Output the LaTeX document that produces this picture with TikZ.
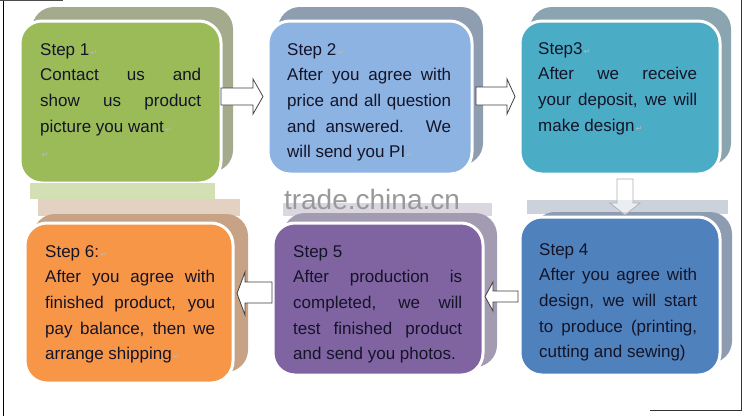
\documentclass[tikz,border=0pt]{standalone}
\usepackage{fontspec}
\setmainfont{Liberation Sans}
\newfontfamily\symfont{DejaVu Sans}
\definecolor{cgreen}{HTML}{9BBB59}
\definecolor{sgreen}{HTML}{A3AB8C}
\definecolor{cblue}{HTML}{8DB3E2}
\definecolor{sblue}{HTML}{8F9DB0}
\definecolor{cteal}{HTML}{4BACC6}
\definecolor{steal}{HTML}{8BA5B0}
\definecolor{cdblue}{HTML}{4F81BD}
\definecolor{sdblue}{HTML}{8D9CB1}
\definecolor{cpurple}{HTML}{8064A2}
\definecolor{spurple}{HTML}{A29BB2}
\definecolor{corange}{HTML}{F79646}
\definecolor{sorange}{HTML}{C8A285}
\definecolor{txt}{HTML}{141428}
\newcommand{\retmk}{{\symfont\color{gray!55}\fontsize{8}{8}\selectfont\,↵}}
\newcommand{\jline}[1]{\makebox[\linewidth][s]{#1}\par}
\newcommand{\nline}[1]{\mbox{#1}\par}
\tikzset{
  front/.style={draw=white, line width=3pt, rounded corners=22pt},
  shadowbox/.style={rounded corners=22pt},
  stepbox/.style={anchor=base west, inner sep=0pt, text=txt,
    font=\fontsize{17}{25.7}\selectfont},
  blockarrow/.style={draw=black!75, fill=white, line width=0.8pt, line join=miter},
}
\begin{document}
\begin{tikzpicture}[x=1pt, y=-1pt]
\useasboundingbox (0,0) rectangle (744,416);
\fill[white] (0,0) rectangle (744,416);
% page edges
\draw[black, line width=0.8pt] (3,0) -- (3,416);
\draw[black!80, line width=0.8pt] (741,0) -- (741,410) -- (650,410);
\draw[black!70, line width=0.8pt] (0,0.5) -- (63,0.5);

% ---- top row ----
\fill[sgreen, shadowbox] (32,7) rectangle (233,172);
\filldraw[fill=cgreen, front] (20,21) rectangle (221,183);
\fill[sblue, shadowbox] (278,7) rectangle (483,165);
\filldraw[fill=cblue, front] (268,21) rectangle (472,174);
\fill[steal, shadowbox] (530,7) rectangle (731,165);
\filldraw[fill=cteal, front] (520,21) rectangle (720,174);

% ---- ghost band ----
\fill[cgreen!45] (30,183) rectangle (215,199);
\fill[sorange!50] (38,199) rectangle (240,216);
\fill[spurple!40] (283,203) rectangle (492,216);
\fill[sdblue!45] (527,200) rectangle (728,214);
\node[text=gray!80, font=\fontsize{28}{28}\selectfont, inner sep=0pt] (wm) at (372,199) {trade.china.cn};

% ---- bottom row ----
\fill[sorange, shadowbox] (33,214) rectangle (248,372);
\filldraw[fill=corange, front] (25,223) rectangle (233,383);
\fill[spurple, shadowbox] (283,213) rectangle (497,367);
\filldraw[fill=cpurple, front] (273,223) rectangle (483,375);
\fill[sdblue, shadowbox] (533,212) rectangle (732,363);
\filldraw[fill=cdblue, front] (520,217) rectangle (720,375);

% ---- arrows ----
\filldraw[blockarrow] (221,88) -- (253,88) -- (253,79) -- (263,96.5) -- (253,114) -- (253,105) -- (221,105) -- cycle;
\filldraw[blockarrow] (476,87) -- (507,87) -- (507,79) -- (515,96.5) -- (507,114) -- (507,105) -- (476,105) -- cycle;
\filldraw[blockarrow, draw=black!30, fill=white, fill opacity=0.6] (617,179) -- (633,179) -- (633,203) -- (640,203) -- (625,215) -- (610,203) -- (617,203) -- cycle;
\filldraw[blockarrow] (518,291) -- (493,291) -- (493,282) -- (485,296.5) -- (493,311) -- (493,302) -- (518,302) -- cycle;
\filldraw[blockarrow] (272,282) -- (245,282) -- (245,272) -- (237,293.5) -- (245,315) -- (245,303) -- (272,303) -- cycle;

% ---- texts ----
\node[stepbox] (t1) at (40,55) {\parbox[t]{161pt}{%
  \nline{Step 1\retmk}
  \jline{Contact us and}
  \jline{show us product}
  \nline{picture you want\retmk}
  \nline{\retmk}}};
\node[stepbox] (t2) at (287,55) {\parbox[t]{164pt}{%
  \nline{Step 2\retmk}
  \jline{After you agree with}
  \jline{price and all question}
  \jline{and answered. We}
  \nline{will send you PI\retmk}}};
\node[stepbox] (t3) at (538,54) {\parbox[t]{159pt}{%
  \nline{Step3\retmk}
  \jline{After we receive}
  \jline{your deposit, we will}
  \nline{make design\retmk}}};
\node[stepbox] (t4) at (539,255) {\parbox[t]{158pt}{%
  \nline{Step 4}
  \jline{After you agree with}
  \jline{design, we will start}
  \jline{to produce (printing,}
  \nline{cutting and sewing)}}};
\node[stepbox] (t5) at (293,257) {\parbox[t]{169pt}{%
  \nline{Step 5}
  \jline{After production is}
  \jline{completed, we will}
  \jline{test finished product}
  \nline{and send you photos.}}};
\node[stepbox] (t6) at (45,257) {\parbox[t]{170pt}{%
  \nline{Step 6:\retmk}
  \jline{After you agree with}
  \jline{finished product, you}
  \jline{pay balance, then we}
  \nline{arrange shipping\retmk}}};
\end{tikzpicture}
\end{document}
